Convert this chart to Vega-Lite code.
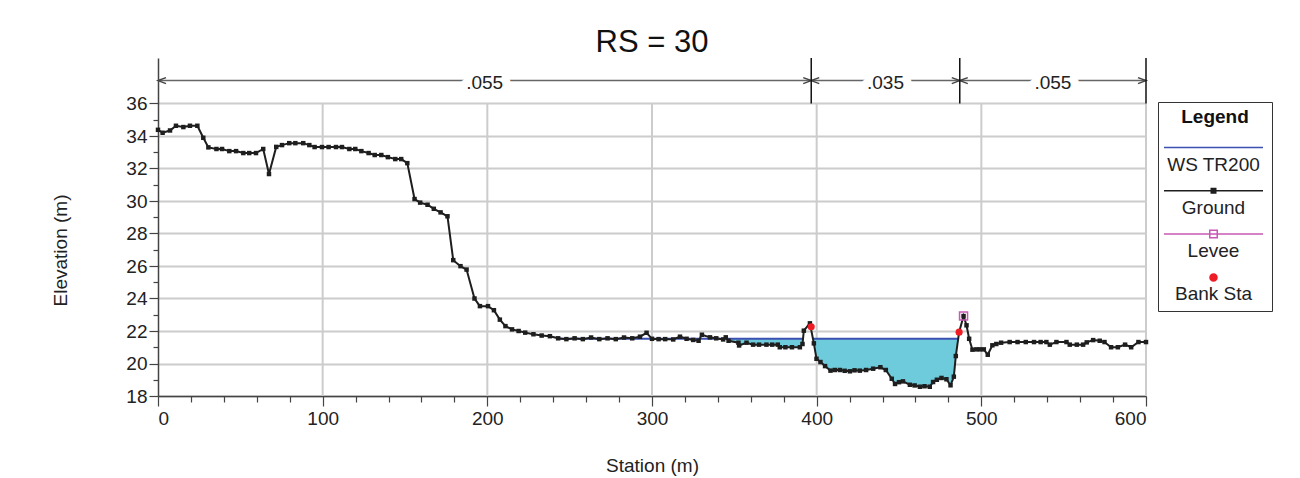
{
  "$schema": "https://vega.github.io/schema/vega-lite/v6.json",
  "width": 988,
  "height": 338,
  "autosize": {"type": "none"},
  "padding": {"left": 158, "top": 58, "right": 154, "bottom": 82},
  "background": "white",
  "title": {"text": "RS = 30", "font": "Liberation Sans", "fontSize": 31, "fontWeight": "normal", "color": "#111", "frame": "group", "anchor": "middle", "offset": -2},
  "config": {"view": {"stroke": null}},
  "datasets": {
    "grid": [{"g": 100}, {"g": 200}, {"g": 300}, {"g": 400}, {"g": 500}, {"g": 600}],
    "ground": [
      {"s": 0, "z": 34.38}, {"s": 2.8, "z": 34.2}, {"s": 7.3, "z": 34.34}, {"s": 10.9, "z": 34.63}, {"s": 15.4, "z": 34.55},
      {"s": 19.4, "z": 34.63}, {"s": 23.9, "z": 34.63}, {"s": 27.5, "z": 33.89}, {"s": 30.6, "z": 33.3}, {"s": 35.5, "z": 33.2},
      {"s": 38.9, "z": 33.2}, {"s": 43.3, "z": 33.07}, {"s": 47.4, "z": 33.07}, {"s": 51.8, "z": 32.95}, {"s": 55.4, "z": 32.95},
      {"s": 59.5, "z": 32.95}, {"s": 63.9, "z": 33.2}, {"s": 67.4, "z": 31.66}, {"s": 71.8, "z": 33.33}, {"s": 75.3, "z": 33.44},
      {"s": 79.7, "z": 33.56}, {"s": 83.4, "z": 33.56}, {"s": 88.2, "z": 33.56}, {"s": 91.9, "z": 33.44}, {"s": 95.1, "z": 33.32},
      {"s": 99.6, "z": 33.32}, {"s": 103.6, "z": 33.32}, {"s": 108.1, "z": 33.32}, {"s": 111.7, "z": 33.32}, {"s": 116.2, "z": 33.2},
      {"s": 119.8, "z": 33.2}, {"s": 123.5, "z": 33.07}, {"s": 127.9, "z": 32.95}, {"s": 131.6, "z": 32.83}, {"s": 135.6, "z": 32.83},
      {"s": 139.6, "z": 32.7}, {"s": 144.1, "z": 32.58}, {"s": 147.7, "z": 32.58}, {"s": 151.4, "z": 32.33}, {"s": 155.8, "z": 30.12},
      {"s": 159.2, "z": 29.9}, {"s": 163.7, "z": 29.77}, {"s": 167.5, "z": 29.52}, {"s": 171.6, "z": 29.3}, {"s": 175.8, "z": 29.06},
      {"s": 179.3, "z": 26.36}, {"s": 183.7, "z": 25.99}, {"s": 187.4, "z": 25.78}, {"s": 192.2, "z": 24.0}, {"s": 195.5, "z": 23.53},
      {"s": 200.4, "z": 23.53}, {"s": 204.0, "z": 23.28}, {"s": 207.6, "z": 22.7}, {"s": 211, "z": 22.3}, {"s": 215, "z": 22.1},
      {"s": 219, "z": 22.0}, {"s": 223, "z": 21.9}, {"s": 228, "z": 21.8}, {"s": 233, "z": 21.72}, {"s": 238, "z": 21.68},
      {"s": 243, "z": 21.55}, {"s": 248, "z": 21.5}, {"s": 253, "z": 21.55}, {"s": 258, "z": 21.5}, {"s": 263, "z": 21.6},
      {"s": 268, "z": 21.5}, {"s": 273, "z": 21.55}, {"s": 278, "z": 21.5}, {"s": 283, "z": 21.6}, {"s": 288, "z": 21.55},
      {"s": 292.7, "z": 21.65}, {"s": 296.7, "z": 21.89}, {"s": 300, "z": 21.52}, {"s": 304, "z": 21.5}, {"s": 308, "z": 21.5},
      {"s": 312.9, "z": 21.48}, {"s": 317, "z": 21.65}, {"s": 321, "z": 21.52}, {"s": 325, "z": 21.45}, {"s": 328.3, "z": 21.4},
      {"s": 330.3, "z": 21.77}, {"s": 335.2, "z": 21.61}, {"s": 339, "z": 21.55}, {"s": 343.2, "z": 21.48}, {"s": 344.8, "z": 21.61},
      {"s": 346.5, "z": 21.4}, {"s": 352.5, "z": 21.28}, {"s": 352.9, "z": 21.11}, {"s": 357.4, "z": 21.28}, {"s": 361.4, "z": 21.16},
      {"s": 365, "z": 21.16}, {"s": 369.5, "z": 21.16}, {"s": 373, "z": 21.16}, {"s": 376.4, "z": 21.16}, {"s": 377.6, "z": 21.0},
      {"s": 381, "z": 21.0}, {"s": 385, "z": 21.0}, {"s": 389.8, "z": 21.0}, {"s": 391.4, "z": 21.2}, {"s": 392.2, "z": 22.02},
      {"s": 395.9, "z": 22.47}, {"s": 398.3, "z": 21.24}, {"s": 399.9, "z": 20.29}, {"s": 402.3, "z": 20.09}, {"s": 405.1, "z": 19.84},
      {"s": 408.4, "z": 19.56}, {"s": 411, "z": 19.6}, {"s": 414.1, "z": 19.6}, {"s": 417, "z": 19.55}, {"s": 420.2, "z": 19.52},
      {"s": 423, "z": 19.58}, {"s": 426.2, "z": 19.56}, {"s": 430, "z": 19.6}, {"s": 434.3, "z": 19.68}, {"s": 438.7, "z": 19.77},
      {"s": 442.0, "z": 19.6}, {"s": 445.6, "z": 19.06}, {"s": 447.6, "z": 18.74}, {"s": 450, "z": 18.85}, {"s": 452.4, "z": 18.9},
      {"s": 456.6, "z": 18.69}, {"s": 459.5, "z": 18.65}, {"s": 462.7, "z": 18.57}, {"s": 465.5, "z": 18.6}, {"s": 468.7, "z": 18.57},
      {"s": 470.7, "z": 18.86}, {"s": 473, "z": 19.0}, {"s": 475.8, "z": 19.11}, {"s": 478.8, "z": 19.03}, {"s": 481.3, "z": 18.66},
      {"s": 483.3, "z": 19.19}, {"s": 484.5, "z": 20.46}, {"s": 486.5, "z": 21.93}, {"s": 489.2, "z": 22.92}, {"s": 491.0, "z": 22.35},
      {"s": 492.6, "z": 21.52}, {"s": 494.6, "z": 20.85}, {"s": 497, "z": 20.87}, {"s": 499.1, "z": 20.87}, {"s": 501.5, "z": 20.87},
      {"s": 503.9, "z": 20.54}, {"s": 506.7, "z": 21.12}, {"s": 509.1, "z": 21.2}, {"s": 512, "z": 21.28}, {"s": 517.2, "z": 21.32},
      {"s": 522, "z": 21.32}, {"s": 527, "z": 21.32}, {"s": 532, "z": 21.32}, {"s": 536, "z": 21.32}, {"s": 539.5, "z": 21.32},
      {"s": 541.6, "z": 21.16}, {"s": 545.6, "z": 21.32}, {"s": 551.7, "z": 21.32}, {"s": 553.7, "z": 21.16}, {"s": 558, "z": 21.16},
      {"s": 561.8, "z": 21.16}, {"s": 564, "z": 21.3}, {"s": 567.9, "z": 21.44}, {"s": 571.9, "z": 21.4}, {"s": 574.8, "z": 21.32},
      {"s": 578.8, "z": 21.0}, {"s": 582.9, "z": 21.0}, {"s": 587.3, "z": 21.16}, {"s": 591.0, "z": 21.0}, {"s": 595.4, "z": 21.32},
      {"s": 600, "z": 21.32}
    ],
    "water": [
      {"pool": "L", "s": 343.7, "z": 21.52}, {"pool": "L", "s": 346.5, "z": 21.4}, {"pool": "L", "s": 352.5, "z": 21.28},
      {"pool": "L", "s": 352.9, "z": 21.11}, {"pool": "L", "s": 357.4, "z": 21.28}, {"pool": "L", "s": 361.4, "z": 21.16},
      {"pool": "L", "s": 365, "z": 21.16}, {"pool": "L", "s": 369.5, "z": 21.16}, {"pool": "L", "s": 373, "z": 21.16},
      {"pool": "L", "s": 376.4, "z": 21.16}, {"pool": "L", "s": 377.6, "z": 21.0}, {"pool": "L", "s": 381, "z": 21.0},
      {"pool": "L", "s": 385, "z": 21.0}, {"pool": "L", "s": 389.8, "z": 21.0}, {"pool": "L", "s": 391.4, "z": 21.2},
      {"pool": "L", "s": 391.7, "z": 21.52},
      {"pool": "C", "s": 397.8, "z": 21.52}, {"pool": "C", "s": 398.3, "z": 21.24}, {"pool": "C", "s": 399.9, "z": 20.29},
      {"pool": "C", "s": 402.3, "z": 20.09}, {"pool": "C", "s": 405.1, "z": 19.84}, {"pool": "C", "s": 408.4, "z": 19.56},
      {"pool": "C", "s": 411, "z": 19.6}, {"pool": "C", "s": 414.1, "z": 19.6}, {"pool": "C", "s": 417, "z": 19.55},
      {"pool": "C", "s": 420.2, "z": 19.52}, {"pool": "C", "s": 423, "z": 19.58}, {"pool": "C", "s": 426.2, "z": 19.56},
      {"pool": "C", "s": 430, "z": 19.6}, {"pool": "C", "s": 434.3, "z": 19.68}, {"pool": "C", "s": 438.7, "z": 19.77},
      {"pool": "C", "s": 442.0, "z": 19.6}, {"pool": "C", "s": 445.6, "z": 19.06}, {"pool": "C", "s": 447.6, "z": 18.74},
      {"pool": "C", "s": 450, "z": 18.85}, {"pool": "C", "s": 452.4, "z": 18.9}, {"pool": "C", "s": 456.6, "z": 18.69},
      {"pool": "C", "s": 459.5, "z": 18.65}, {"pool": "C", "s": 462.7, "z": 18.57}, {"pool": "C", "s": 465.5, "z": 18.6},
      {"pool": "C", "s": 468.7, "z": 18.57}, {"pool": "C", "s": 470.7, "z": 18.86}, {"pool": "C", "s": 473, "z": 19.0},
      {"pool": "C", "s": 475.8, "z": 19.11}, {"pool": "C", "s": 478.8, "z": 19.03}, {"pool": "C", "s": 481.3, "z": 18.66},
      {"pool": "C", "s": 483.3, "z": 19.19}, {"pool": "C", "s": 484.5, "z": 20.46}, {"pool": "C", "s": 485.9, "z": 21.52}
    ],
    "ws": [{"a": 243, "b": 392, "ws": 21.52}, {"a": 397.8, "b": 485.9, "ws": 21.52}],
    "bank": [{"s": 396.7, "z": 22.26}, {"s": 486.5, "z": 21.93}],
    "levee": [{"s": 489.2, "z": 22.92}],
    "nvals": [
      {"seg": 1, "from": 0, "to": 396.7, "n": ".055"},
      {"seg": 2, "from": 396.7, "to": 486.9, "n": ".035"},
      {"seg": 3, "from": 486.9, "to": 600, "n": ".055"}
    ],
    "legend": [{"series": "WS TR200"}, {"series": "Ground"}, {"series": "Levee"}, {"series": "Bank Sta"}]
  },
  "resolve": {"axis": {"x": "independent", "y": "independent"}},
  "layer": [
    {
      "data": {"name": "grid"},
      "mark": {"type": "rule", "color": "#cccccc", "strokeWidth": 2},
      "encoding": {
        "x": {"field": "g", "type": "quantitative", "scale": {"domain": [0, 600], "nice": false, "zero": false},
          "axis": {"orient": "bottom", "values": [0, 100, 200, 300, 400, 500, 600], "grid": false, "tickSize": 10, "tickColor": "#444", "tickWidth": 1.2,
            "domainColor": "#444", "domainWidth": 1.5, "labelFont": "Liberation Sans", "labelFontSize": 19, "labelColor": "#222", "labelPadding": 3,
            "title": "Station (m)", "titleFont": "Liberation Sans", "titleFontSize": 19, "titleFontWeight": "normal", "titleColor": "#222", "titleY": 69, "titleBaseline": "middle"}},
        "y": {"datum": 18, "type": "quantitative", "scale": {"domain": [18, 38.8], "nice": false, "zero": false},
          "axis": {"orient": "left", "values": [18, 20, 22, 24, 26, 28, 30, 32, 34, 36], "grid": true, "gridColor": "#cccccc", "gridWidth": 2,
            "tickSize": 9, "tickColor": "#444", "tickWidth": 1.2, "domainColor": "#444", "domainWidth": 1.5, "labelFont": "Liberation Sans", "labelFontSize": 19, "labelColor": "#222", "labelPadding": 2,
            "title": "Elevation (m)", "titleFont": "Liberation Sans", "titleFontSize": 19, "titleFontWeight": "normal", "titleColor": "#222", "titleX": -98, "titleY": 192, "titleBaseline": "middle", "titleAngle": -90}},
        "y2": {"datum": 36}
      }
    },
    {
      "data": {"name": "water"},
      "mark": {"type": "area", "color": "#6ecbdc", "opacity": 1},
      "encoding": {
        "x": {"field": "s", "type": "quantitative", "scale": {"domain": [0, 600], "nice": false, "zero": false},
          "axis": {"orient": "bottom", "values": [20, 40, 60, 80, 120, 140, 160, 180, 220, 240, 260, 280, 320, 340, 360, 380, 420, 440, 460, 480, 520, 540, 560, 580], "labels": false, "domain": false, "grid": false, "tickSize": 6, "tickColor": "#444", "tickWidth": 1.2, "title": null}},
        "y": {"field": "z", "type": "quantitative", "scale": {"domain": [18, 38.8], "nice": false, "zero": false},
          "axis": {"orient": "left", "values": [19, 21, 23, 25, 27, 29, 31, 33, 35], "labels": false, "domain": false, "grid": false, "tickSize": 5, "tickColor": "#444", "tickWidth": 1.2, "title": null}},
        "y2": {"datum": 21.52},
        "detail": {"field": "pool"}
      }
    },
    {
      "data": {"name": "ws"},
      "mark": {"type": "rule", "color": "#3b50b0", "strokeWidth": 2},
      "encoding": {
        "x": {"field": "a", "type": "quantitative", "scale": {"domain": [0, 600], "nice": false, "zero": false}, "axis": null},
        "x2": {"field": "b"},
        "y": {"field": "ws", "type": "quantitative", "scale": {"domain": [18, 38.8], "nice": false, "zero": false}, "axis": null}
      }
    },
    {
      "data": {"name": "ground"},
      "mark": {"type": "line", "color": "#1e1e1e", "strokeWidth": 2, "point": {"shape": "square", "size": 20, "filled": true, "color": "#1e1e1e"}},
      "encoding": {
        "x": {"field": "s", "type": "quantitative", "scale": {"domain": [0, 600], "nice": false, "zero": false}, "axis": null},
        "y": {"field": "z", "type": "quantitative", "scale": {"domain": [18, 38.8], "nice": false, "zero": false}, "axis": null}
      }
    },
    {
      "data": {"name": "levee"},
      "mark": {"type": "point", "shape": "square", "size": 64, "filled": false, "color": "#c759b5", "strokeWidth": 1.5, "opacity": 1},
      "encoding": {
        "x": {"field": "s", "type": "quantitative", "scale": {"domain": [0, 600], "nice": false, "zero": false}, "axis": null},
        "y": {"field": "z", "type": "quantitative", "scale": {"domain": [18, 38.8], "nice": false, "zero": false}, "axis": null}
      }
    },
    {
      "data": {"name": "bank"},
      "mark": {"type": "circle", "size": 50, "color": "#ee1c24", "opacity": 1},
      "encoding": {
        "x": {"field": "s", "type": "quantitative", "scale": {"domain": [0, 600], "nice": false, "zero": false}, "axis": null},
        "y": {"field": "z", "type": "quantitative", "scale": {"domain": [18, 38.8], "nice": false, "zero": false}, "axis": null}
      }
    },
    {
      "data": {"name": "nvals"},
      "mark": {"type": "rule", "color": "#666666", "strokeWidth": 1.5},
      "encoding": {
        "x": {"field": "from", "type": "quantitative", "scale": {"domain": [0, 600], "nice": false, "zero": false}, "axis": null},
        "x2": {"field": "to"},
        "y": {"datum": 37.41, "type": "quantitative", "scale": {"domain": [18, 38.8], "nice": false, "zero": false}, "axis": null}
      }
    },
    {
      "data": {"name": "nvals"},
      "mark": {"type": "point", "shape": "M3.2,-1.2L0,0L3.2,1.2", "size": 25, "filled": false, "color": "#444", "strokeWidth": 1.5, "opacity": 1},
      "encoding": {
        "x": {"field": "from", "type": "quantitative", "scale": {"domain": [0, 600], "nice": false, "zero": false}, "axis": null},
        "y": {"datum": 37.41, "type": "quantitative", "scale": {"domain": [18, 38.8], "nice": false, "zero": false}, "axis": null}
      }
    },
    {
      "data": {"name": "nvals"},
      "mark": {"type": "point", "shape": "M-3.2,-1.2L0,0L-3.2,1.2", "size": 25, "filled": false, "color": "#444", "strokeWidth": 1.5, "opacity": 1},
      "encoding": {
        "x": {"field": "to", "type": "quantitative", "scale": {"domain": [0, 600], "nice": false, "zero": false}, "axis": null},
        "y": {"datum": 37.41, "type": "quantitative", "scale": {"domain": [18, 38.8], "nice": false, "zero": false}, "axis": null}
      }
    },
    {
      "data": {"name": "nvals"},
      "mark": {"type": "rule", "color": "#111111", "strokeWidth": 1.5},
      "encoding": {
        "x": {"field": "to", "type": "quantitative", "scale": {"domain": [0, 600], "nice": false, "zero": false}, "axis": null},
        "y": {"datum": 36, "type": "quantitative", "scale": {"domain": [18, 38.8], "nice": false, "zero": false}, "axis": null},
        "y2": {"datum": 38.8}
      }
    },
    {
      "data": {"name": "nvals"},
      "transform": [{"fold": ["from", "to"], "as": ["edge", "st"]}],
      "mark": {"type": "text", "font": "Liberation Sans", "fontSize": 19, "color": "white", "stroke": "white", "strokeWidth": 17, "strokeJoin": "round", "baseline": "middle", "dy": 2},
      "encoding": {
        "x": {"field": "st", "aggregate": "mean", "type": "quantitative", "scale": {"domain": [0, 600], "nice": false, "zero": false}, "axis": null},
        "y": {"datum": 37.41, "type": "quantitative", "scale": {"domain": [18, 38.8], "nice": false, "zero": false}, "axis": null},
        "text": {"field": "n"},
        "detail": {"field": "seg"}
      }
    },
    {
      "data": {"name": "nvals"},
      "transform": [{"fold": ["from", "to"], "as": ["edge", "st"]}],
      "mark": {"type": "text", "font": "Liberation Sans", "fontSize": 19, "color": "#222", "baseline": "middle", "dy": 2},
      "encoding": {
        "x": {"field": "st", "aggregate": "mean", "type": "quantitative", "scale": {"domain": [0, 600], "nice": false, "zero": false}, "axis": null},
        "y": {"datum": 37.41, "type": "quantitative", "scale": {"domain": [18, 38.8], "nice": false, "zero": false}, "axis": null},
        "text": {"field": "n"},
        "detail": {"field": "seg"}
      }
    },
    {
      "data": {"name": "legend"},
      "mark": {"type": "point", "opacity": 0, "filled": false, "strokeWidth": 1.5},
      "encoding": {
        "color": {"field": "series", "type": "nominal",
          "scale": {"domain": ["WS TR200", "Ground", "Levee", "Bank Sta"], "range": ["#3b50b0", "#1e1e1e", "#c759b5", "#ee1c24"]},
          "legend": {
            "title": "Legend", "orient": "none", "legendX": 1000, "legendY": 44,
            "titleFont": "Liberation Sans", "titleFontSize": 19, "titleFontWeight": "bold", "titleColor": "#111", "titleAnchor": "middle", "titlePadding": 28,
            "strokeColor": "#333", "fillColor": "#ffffff", "padding": 6,
            "symbolSize": 100, "symbolStrokeWidth": 1.5, "symbolOffset": 40, "symbolOpacity": 1,
            "labelFont": "Liberation Sans", "labelFontSize": 19, "labelColor": "#222", "labelAlign": "center", "labelBaseline": "middle", "labelOffset": -9.5,
            "rowPadding": 8.3
          }
        },
        "shape": {"field": "series", "type": "nominal",
          "scale": {"domain": ["WS TR200", "Ground", "Levee", "Bank Sta"], "range": [
            "M0,-4.2M-9.9,-3.4H9.9",
            "M0,-4.2M-9.9,-3.4H9.9M-0.45,-3.85H0.45V-2.95H-0.45ZM-0.15,-3.55H0.15V-3.25H-0.15Z",
            "M0,-4.2M-9.9,-3.4H9.9M-0.75,-4.15H0.75V-2.65H-0.75Z",
            "M0,-4.2M0.7,-3.4A0.7,0.7,0,1,1,-0.7,-3.4A0.7,0.7,0,1,1,0.7,-3.4ZM0.4,-3.4A0.4,0.4,0,1,1,-0.4,-3.4A0.4,0.4,0,1,1,0.4,-3.4ZM0.12,-3.4A0.12,0.12,0,1,1,-0.12,-3.4A0.12,0.12,0,1,1,0.12,-3.4Z"
          ]},
          "legend": {
            "title": "Legend", "orient": "none", "legendX": 1000, "legendY": 44,
            "titleFont": "Liberation Sans", "titleFontSize": 19, "titleFontWeight": "bold", "titleColor": "#111", "titleAnchor": "middle", "titlePadding": 28,
            "strokeColor": "#333", "fillColor": "#ffffff", "padding": 6,
            "symbolSize": 100, "symbolStrokeWidth": 1.5, "symbolOffset": 40, "symbolOpacity": 1,
            "labelFont": "Liberation Sans", "labelFontSize": 19, "labelColor": "#222", "labelAlign": "center", "labelBaseline": "middle", "labelOffset": -9.5,
            "rowPadding": 8.3
          }
        }
      }
    }
  ]
}
